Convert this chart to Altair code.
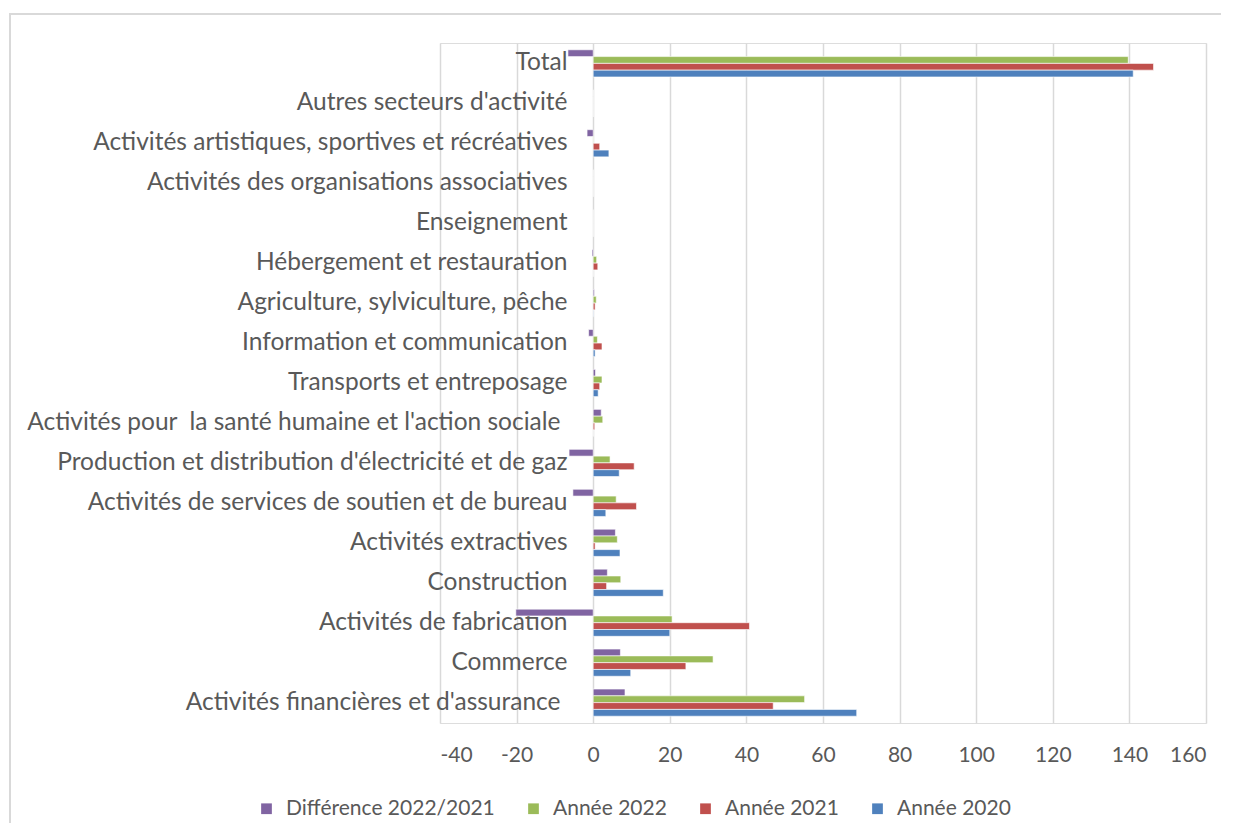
import altair as alt
import pandas as pd

categories = [
    "Total",
    "Autres secteurs d'activité",
    "Activités artistiques, sportives et récréatives",
    "Activités des organisations associatives",
    "Enseignement",
    "Hébergement et restauration",
    "Agriculture, sylviculture, pêche",
    "Information et communication",
    "Transports et entreposage",
    "Activités pour  la santé humaine et l'action sociale ",
    "Production et distribution d'électricité et de gaz",
    "Activités de services de soutien et de bureau",
    "Activités extractives",
    "Construction",
    "Activités de fabrication",
    "Commerce",
    "Activités financières et d'assurance ",
]

series = ["Différence 2022/2021", "Année 2022", "Année 2021", "Année 2020"]
colors = ["#8064A2", "#9BBB59", "#C0504D", "#4F81BD"]

diff_2022_2021 = [-6.6, 0, -1.6, 0, 0, -0.3, 0.3, -1.2, 0.6, 2.1, -6.3, -5.3, 5.8, 3.7, -20.2, 7.1, 8.3]
annee_2022 = [139.7, 0, 0.1, 0, 0, 0.9, 0.8, 1.1, 2.3, 2.5, 4.4, 6.0, 6.3, 7.2, 20.6, 31.3, 55.2]
annee_2021 = [146.3, 0, 1.7, 0, 0, 1.2, 0.5, 2.3, 1.7, 0.4, 10.7, 11.3, 0.5, 3.5, 40.8, 24.2, 47.0]
annee_2020 = [141.0, 0, 4.1, 0, 0, 0, 0.1, 0.5, 1.3, 0, 6.8, 3.3, 7.0, 18.3, 20.0, 9.8, 68.8]

x_ticks = [-40, -20, 0, 20, 40, 60, 80, 100, 120, 140, 160]

rows = []
for s, vals in zip(series, [diff_2022_2021, annee_2022, annee_2021, annee_2020]):
    for c, v in zip(categories, vals):
        rows.append({"secteur": c, "serie": s, "valeur": v})
df = pd.DataFrame(rows)

FONT = "Lato"
GREY = "#595959"

label_expr = "replace(datum.label, /  /g, ' \u00a0')"
trailing_test = "test(/ $/, datum.value)"

bars = alt.Chart(df).mark_bar(stroke="white", strokeWidth=0.6).encode(
    x=alt.X(
        "valeur:Q",
        scale=alt.Scale(domain=[-40, 160], nice=False, zero=False),
        axis=alt.Axis(
            values=x_ticks, title=None, domain=False, ticks=False,
            grid=True, gridColor="#d9d9d9", gridWidth=1.5,
            labelExpr="'' + datum.value",
            labelFontSize=21, labelColor=GREY, labelFont=FONT, labelPadding=21,
        ),
    ),
    y=alt.Y(
        "secteur:N",
        sort=categories,
        scale=alt.Scale(paddingInner=0.32, paddingOuter=0.17),
        axis=alt.Axis(
            title=None, domain=False, ticks=False, grid=False,
            offset=-153, labelLimit=800,
            labelPadding={"condition": {"test": trailing_test, "value": 33}, "value": 26},
            labelExpr=label_expr,
            labelFontSize=24.5, labelColor=GREY, labelFont=FONT,
        ),
    ),
    yOffset=alt.YOffset("serie:N", sort=series, scale=alt.Scale(paddingInner=0.0)),
    color=alt.Color(
        "serie:N",
        sort=series,
        scale=alt.Scale(domain=series, range=colors),
        legend=alt.Legend(
            title=None, orient="none", direction="horizontal",
            legendX=-184, legendY=755,
            symbolType="square", symbolSize=115, symbolStrokeWidth=0,
            labelFontSize=21, labelColor=GREY, labelFont=FONT, labelLimit=400,
            columnPadding=28, labelOffset=9,
        ),
    ),
)

frame_src = pd.DataFrame({"k": [0]})
border_top = alt.Chart(frame_src).mark_rule(color="#d9d9d9", strokeWidth=2).encode(
    x=alt.value(-431), x2=alt.value(900), y=alt.value(-29)
)
border_left = alt.Chart(frame_src).mark_rule(color="#d9d9d9", strokeWidth=2).encode(
    x=alt.value(-430), y=alt.value(-30), y2=alt.value(900)
)

chart = alt.layer(border_top, border_left, bars).properties(
    width=766,
    height=680,
    autosize=alt.AutoSizeParams(type="none"),
    padding={"left": 432, "top": 35, "right": 15, "bottom": 100},
).configure_view(stroke=None).configure(font=FONT, background="white")

chart.save("out.html", embed_options={"renderer": "svg", "actions": False})
